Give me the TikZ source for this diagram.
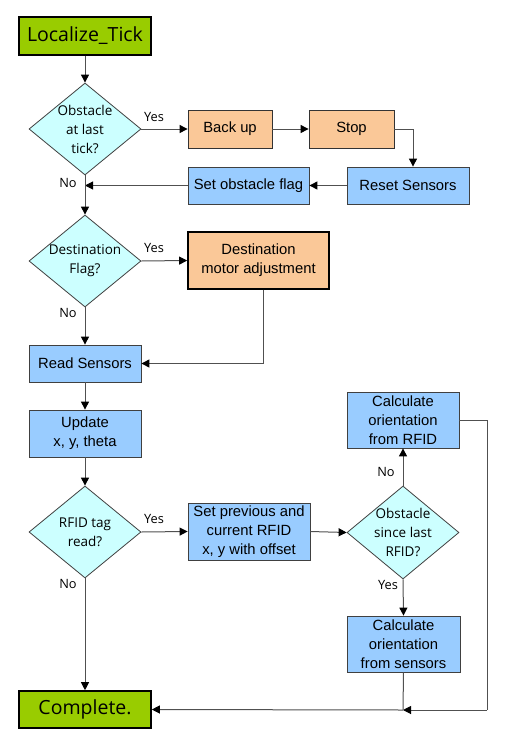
\documentclass[tikz,border=0pt]{standalone}
\usepackage{fontspec}
\setmainfont{Liberation Sans}
\newfontfamily\hfont{Open Sans}
\usetikzlibrary{shapes.geometric,arrows.meta}
\definecolor{termgreen}{RGB}{153,204,0}
\definecolor{actorange}{RGB}{250,200,152}
\definecolor{actblue}{RGB}{153,204,255}
\definecolor{deccyan}{RGB}{204,255,255}
\definecolor{linegray}{RGB}{80,80,80}
\tikzset{
  term/.style={draw=black, line width=1.6pt, fill=termgreen, minimum width=132pt, minimum height=38pt, inner sep=0pt, font=\hfont\fontsize{19.5}{22}\selectfont},
  obox/.style={draw=black!80, line width=0.8pt, fill=actorange, inner sep=0pt, align=center, font=\fontsize{14.8}{19}\selectfont},
  bbox/.style={draw=black!75, line width=0.8pt, fill=actblue, inner sep=0pt, align=center, font=\fontsize{14.8}{19}\selectfont},
  dia/.style={draw=black!75, line width=0.8pt, fill=deccyan, diamond, minimum width=112pt, minimum height=92pt, inner sep=0pt},
  dtext/.style={align=center, inner sep=0pt, font=\hfont\fontsize{13.5}{19}\selectfont},
  lab/.style={inner sep=0pt, font=\hfont\fontsize{12.8}{15}\selectfont},
  conn/.style={draw=linegray, line width=1pt},
  arr/.style={conn, -{Triangle[length=8pt,width=8pt,color=black]}},
}
\begin{document}
\begin{tikzpicture}[x=1pt,y=-1pt]
\useasboundingbox (0,0) rectangle (516,755);
% nodes
\node[term] (lt) at (85,36) {Localize\_Tick};
\node[dia] (d1) at (85,129) {};
\node[dtext] (d1t) at (85,129) {Obstacle\\at last\\tick?};
\node[obox, minimum width=84pt, minimum height=38pt] (backup) at (230,129) {Back up};
\node[obox, minimum width=85pt, minimum height=38pt] (stop) at (351.5,129) {Stop};
\node[bbox, minimum width=122pt, minimum height=37pt] (reset) at (408,185.5) {Reset Sensors};
\node[bbox, minimum width=121pt, minimum height=37pt] (setobs) at (248.5,185.5) {Set obstacle flag};
\node[dia] (d2) at (85,261) {};
\node[dtext] (d2t) at (85,261) {Destination\\Flag?};
\node[obox, draw=black, line width=1.6pt, minimum width=141pt, minimum height=57pt] (dma) at (258.5,260.5) {Destination\\motor adjustment};
\node[bbox, minimum width=112pt, minimum height=37pt] (read) at (85,363.5) {Read Sensors};
\node[bbox, minimum width=112pt, minimum height=47pt] (update) at (85,433.5) {Update\\x, y, theta};
\node[dia] (d3) at (85,532) {};
\node[dtext] (d3t) at (85,532) {RFID tag\\read?};
\node[bbox, minimum width=122pt, minimum height=57pt] (setprev) at (249,531.5) {Set previous and\\current RFID\\x, y with offset};
\node[dia, minimum height=93pt] (d4) at (403,532.5) {};
\node[dtext] (d4t) at (403,532.5) {Obstacle\\since last\\RFID?};
\node[bbox, minimum width=112pt, minimum height=56pt] (crfid) at (403,420) {Calculate\\orientation\\from RFID};
\node[bbox, minimum width=113pt, minimum height=56pt] (csens) at (403.5,644) {Calculate\\orientation\\from sensors};
\node[term, minimum height=37pt] (complete) at (85,709.5) {Complete.};
% labels
\node[lab] (y1) at (154,117) {Yes};
\node[lab] (n1) at (68,183) {No};
\node[lab] (y2) at (154,248) {Yes};
\node[lab] (n2) at (68,313) {No};
\node[lab] (y3) at (154,519) {Yes};
\node[lab] (n3) at (68,584) {No};
\node[lab] (n4) at (386,472) {No};
\node[lab] (y4) at (388,585) {Yes};
% helper coordinates
\coordinate (c1) at (413,129);
\coordinate (c2) at (263,289.5);
\coordinate (c3) at (487,420);
\coordinate (c4) at (487,710);
\coordinate (c5) at (403,710);
% connectors
\draw[arr] (lt.south) -- (d1.north);
\draw[arr] (d1.east) -- (backup.west);
\draw[arr] (backup.east) -- (stop.west);
\draw[arr] (stop.east) -- (c1) -- (c1 |- reset.north);
\draw[arr] (reset.west) -- (setobs.east);
\draw[arr] (setobs.west) -- (setobs.west -| d1.south);
\draw[arr] (d1.south) -- (d2.north);
\draw[arr] (d2.east) -- (dma.west);
\draw[arr] (d2.south) -- (read.north);
\draw[arr] (c2) |- (read.east);
\draw[arr] (read.south) -- (update.north);
\draw[arr] (update.south) -- (d3.north);
\draw[arr] (d3.east) -- (setprev.west);
\draw[arr] (setprev.east) -- (d4.west);
\draw[arr] (d4.north) -- (crfid.south);
\draw[arr] (d4.south) -- (csens.north);
\draw[arr] (d3.south) -- (complete.north);
\draw[conn] (crfid.east) -- (c3) -- (c4);
\draw[arr] (c4) -- (c5);
\draw[conn] (csens.south) -- (c5);
\draw[arr] (c5) -- (complete.east);
\end{tikzpicture}
\end{document}
